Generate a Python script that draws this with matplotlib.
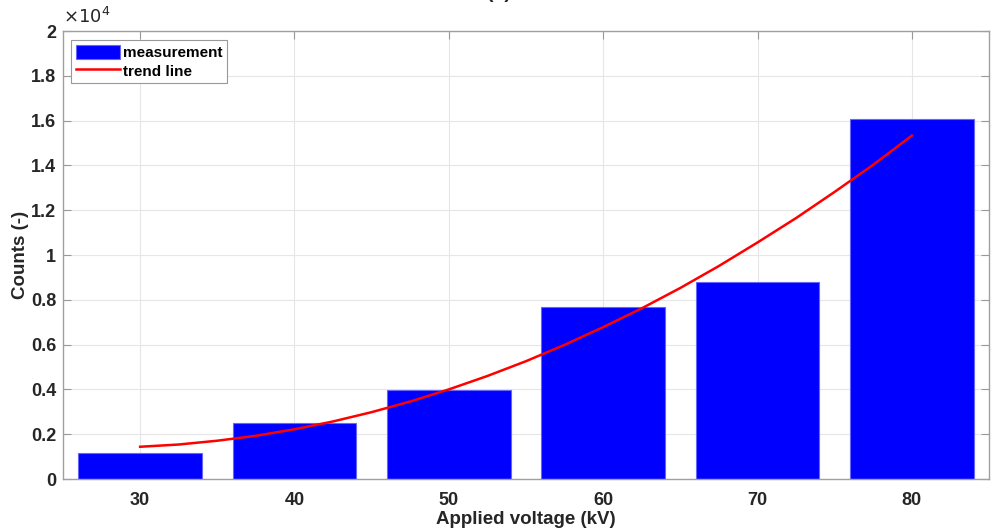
import matplotlib.pyplot as plt
import numpy as np

# voltage steps and measured counts
voltage = [30, 40, 50, 60, 70, 80]
counts = [1150, 2500, 3970, 7680, 8800, 16070]

# trend line every 2.5 kV
trend_v = [30, 32.5, 35, 37.5, 40, 42.5, 45, 47.5, 50, 52.5, 55, 57.5, 60,
           62.5, 65, 67.5, 70, 72.5, 75, 77.5, 80]
trend_c = [1440, 1540, 1710, 1930, 2220, 2570, 2985, 3460, 4000, 4600, 5260, 5990, 6780,
           7620, 8530, 9510, 10560, 11650, 12820, 14030, 15330]

yticks = [0, 0.2, 0.4, 0.6, 0.8, 1, 1.2, 1.4, 1.6, 1.8, 2]

plt.rcParams['font.family'] = ['Liberation Sans', 'DejaVu Sans']

fig = plt.figure(figsize=(9.98, 5.32), dpi=100)
ax = fig.add_axes([0.0631, 0.0996, 0.9279, 0.8421])

bars = ax.bar(voltage, counts, width=8, color='#0000ff', edgecolor='#6666ff', linewidth=0.8,
              label='measurement', zorder=2)
line, = ax.plot(trend_v, trend_c, color='#ff0000', linewidth=1.8, label='trend line', zorder=3)

ax.set_xlim(25, 85)
ax.set_ylim(0, 20000)
ax.set_xticks(voltage)
ax.set_xticklabels([str(v) for v in voltage], fontweight='bold', fontsize=13)
ax.set_yticks([t * 1e4 for t in yticks])
ax.set_yticklabels(['%g' % t for t in yticks], fontweight='bold', fontsize=13)

ax.grid(True, color='#e6e6e6', linewidth=0.8, zorder=0)
ax.set_axisbelow(True)
ax.tick_params(direction='in', length=6, color='#999999', right=True, top=True,
               labelcolor='#262626', pad=5)
ax.tick_params(axis='x', pad=9)
for s in ax.spines.values():
    s.set_color('#a0a0a0')
    s.set_linewidth(1.0)

ax.set_xlabel('Applied voltage (kV)', fontsize=13.5, fontweight='bold', color='#262626', labelpad=2)
ax.set_ylabel('Counts (-)', fontsize=13.5, fontweight='bold', color='#262626', labelpad=1)

ax.text(0.0, 1.008, r'$\times10^{4}$', transform=ax.transAxes, fontsize=13,
        color='#262626', ha='left', va='bottom')

fig.text(0.5, 1 - 2 / 532, '(a)', ha='center', va='bottom', fontsize=14,
         fontweight='bold', color='#262626')

leg = ax.legend([bars, line], ['measurement', 'trend line'], loc='upper left',
                bbox_to_anchor=(0.009, 0.98), fancybox=False,
                framealpha=1, edgecolor='#999999', prop={'weight': 'bold', 'size': 11},
                handlelength=2.9, handleheight=1.1, borderpad=0.3, labelspacing=0.2,
                handletextpad=0.2, borderaxespad=0)
leg.get_frame().set_linewidth(0.8)

fig.savefig('out.png', dpi=100)
